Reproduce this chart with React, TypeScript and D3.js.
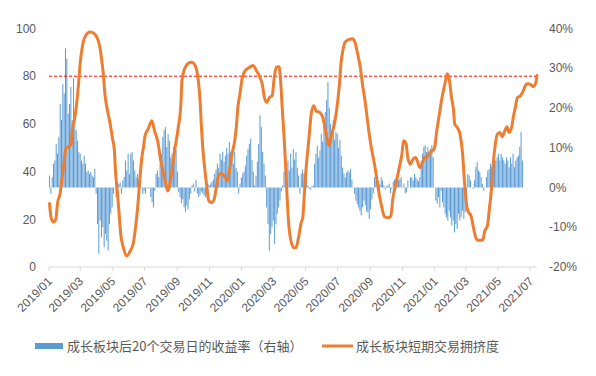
import React from 'react';
import * as d3 from 'd3';

const W = 596;
const H = 376;

const xTickLabels = [
  '2019/01', '2019/03', '2019/05', '2019/07', '2019/09', '2019/11',
  '2020/01', '2020/03', '2020/05', '2020/07', '2020/09', '2020/11',
  '2021/01', '2021/03', '2021/05', '2021/07',
];
const leftTicks = [0, 20, 40, 60, 80, 100];
const rightTicks = [-20, -10, 0, 10, 20, 30, 40];
const crowdingThreshold = 80;

const seriesBarName = '成长板块后20个交易日的收益率（右轴）';
const seriesLineName = '成长板块短期交易拥挤度';

// crowding line (left axis)
const lineDates = [
  '2019-01-02','2019-01-05','2019-01-09','2019-01-14','2019-01-17','2019-01-22','2019-01-26','2019-01-30',
  '2019-02-02','2019-02-07','2019-02-12','2019-02-14','2019-02-19','2019-02-23','2019-02-26','2019-03-01',
  '2019-03-05','2019-03-10','2019-03-20','2019-03-28','2019-04-03','2019-04-08','2019-04-11','2019-04-14',
  '2019-04-17','2019-04-22','2019-04-27','2019-05-01','2019-05-05','2019-05-07','2019-05-11','2019-05-14',
  '2019-05-17','2019-05-22','2019-05-28','2019-06-04','2019-06-10','2019-06-14','2019-06-18','2019-06-22',
  '2019-06-26','2019-06-29','2019-07-02','2019-07-08','2019-07-15','2019-07-20','2019-07-26','2019-08-01',
  '2019-08-08','2019-08-14','2019-08-21','2019-08-27','2019-09-03','2019-09-08','2019-09-10','2019-09-15',
  '2019-09-22','2019-09-28','2019-10-05','2019-10-11','2019-10-14','2019-10-17','2019-10-20','2019-10-23',
  '2019-10-27','2019-10-31','2019-11-05','2019-11-10','2019-11-14','2019-11-19','2019-11-24','2019-11-29',
  '2019-12-05','2019-12-10','2019-12-14','2019-12-19','2019-12-22','2019-12-25','2019-12-29','2020-01-02',
  '2020-01-08','2020-01-17','2020-01-23','2020-01-29','2020-02-05','2020-02-09','2020-02-14','2020-02-18',
  '2020-02-23','2020-02-28','2020-03-03','2020-03-07','2020-03-12','2020-03-15','2020-03-18','2020-03-22',
  '2020-03-25','2020-03-28','2020-03-31','2020-04-03','2020-04-09','2020-04-13','2020-04-18','2020-04-23',
  '2020-04-26','2020-04-29','2020-05-02','2020-05-06','2020-05-09','2020-05-12','2020-05-17','2020-05-21',
  '2020-05-28','2020-06-03','2020-06-07','2020-06-12','2020-06-15','2020-06-20','2020-06-25','2020-06-29',
  '2020-07-04','2020-07-08','2020-07-11','2020-07-15','2020-07-21','2020-07-30','2020-08-03','2020-08-08',
  '2020-08-13','2020-08-18','2020-08-22','2020-08-26','2020-08-30','2020-09-04','2020-09-09','2020-09-14',
  '2020-09-18','2020-09-23','2020-09-28','2020-10-05','2020-10-10','2020-10-14','2020-10-18','2020-10-22',
  '2020-10-26','2020-10-31','2020-11-03','2020-11-08','2020-11-11','2020-11-16','2020-11-21','2020-11-26',
  '2020-11-29','2020-12-04','2020-12-09','2020-12-13','2020-12-18','2020-12-23','2020-12-28','2021-01-01',
  '2021-01-05','2021-01-08','2021-01-11','2021-01-15','2021-01-19','2021-01-23','2021-01-25','2021-01-29',
  '2021-02-02','2021-02-06','2021-02-08','2021-02-13','2021-02-18','2021-02-23','2021-02-26','2021-03-01',
  '2021-03-05','2021-03-11','2021-03-15','2021-03-19','2021-03-24','2021-04-02','2021-04-06','2021-04-11',
  '2021-04-15','2021-04-19','2021-04-22','2021-04-26','2021-04-30','2021-05-05','2021-05-09','2021-05-14',
  '2021-05-18','2021-05-22','2021-05-27','2021-05-30','2021-06-03','2021-06-07','2021-06-13','2021-06-18',
  '2021-06-22','2021-06-26','2021-07-02','2021-07-07','2021-07-12','2021-07-14',
];
const lineValues = [
  26.6, 20.7, 18.9, 20, 26.5, 30.7, 37.5, 44.5,
  49.6, 50.4, 51.3, 57, 62.7, 69.7, 76.8, 85.2,
  92.1, 96.4, 98.5, 97.8, 95.7, 91.5, 86.5, 81,
  72.5, 65.5, 60, 54.3, 48.7, 40.3, 30.5, 22.1,
  13.7, 8.1, 4.6, 6.7, 10.2, 16.5, 24.9, 36.1,
  45.9, 50.1, 55, 57.9, 61.3, 57.1, 52.9, 44.5,
  37.5, 31.9, 38.9, 48.7, 58.5, 68.4, 78.2, 83.1,
  85.4, 85.8, 84.5, 78.2, 71.1, 58.5, 48.7, 41.7,
  34, 27.7, 27, 28.4, 33.3, 38.9, 39.2, 38.2,
  36.1, 41.7, 47.4, 52.9, 58.5, 66.9, 72.6, 78.9,
  82.4, 83.8, 84.5, 82.4, 79.5, 76.8, 70.5, 69,
  71.1, 71.8, 79.5, 83.8, 84, 78.2, 66.9, 52.9,
  40.3, 26.3, 16.5, 11.6, 8.1, 8.1, 12.3, 18.6,
  20.7, 30.5, 40.3, 50.1, 57.1, 64.1, 67.6, 65.5,
  64.8, 62.7, 58.5, 52.9, 50.8, 55.7, 60, 65.5,
  75.3, 86.5, 90.8, 94.2, 95.2, 95.7, 94.2, 89.4,
  83.8, 75.3, 69.7, 62.7, 55.7, 48.7, 43.1, 36.1,
  30.5, 24.9, 21, 20.7, 21.4, 29.1, 33.3, 37.5,
  41.7, 47.4, 52.9, 51.5, 45.9, 43.1, 45.2, 45.9,
  44.5, 41.7, 43.8, 45.9, 45.9, 48, 48.7, 50.1,
  57.1, 61.3, 65.5, 71.1, 75.3, 79.5, 81, 78.2,
  71.1, 65.5, 60, 58.5, 55.7, 47.4, 37.5, 29.1,
  23.5, 21.4, 17.2, 13, 11.2, 11.2, 15.1, 17.2,
  24.9, 33.3, 43.1, 51.5, 55.7, 56.4, 54.6, 57.1,
  58.8, 56.4, 58.5, 62.7, 66.9, 71.1, 71.8, 73.9,
  76.1, 76.8, 76.5, 75.6, 77.4, 80.3,
];

// forward 20-day return, % (right axis), one bar every ~2.5 calendar days
const barStartDate = '2019-01-02';
const barStepDays = 2.525;
const barReturns2019a = [
  3, -1.6, 2.6, 6, 6.8, 11, 8.5, 12.7, 21, 17,
  26, 23.6, 35, 32.4, 18.6, 21, 25.3, 17, 27.4, 17,
  14.4, 11.8, 8.9, 8.5, 6.8, 6, 8, 6, 3.9, 4.3,
  3.4, 3.9, 3, 2.6, 4.7, -1.6, -9.2, -16.7, -8.3, -12.5,
  -10, -15, -11.7, -13.4, -15.9, -9.2, -6.6, -5, -1.6, 0,
  -2.4, -1.2, 0.9, 1.3, -1.6, 1.8, 2.6, 6.8, 4.3, 8.5,
  3.4, 8.5, 8.9, 6.8, 4.3, 2.6, 3.4, 1.8, 2.6, 0,
  -1.6, -0.8, -1.6, 0, -0.3, 0.1, -2.4, -3.7, -5, -0.8,
  3.4, 4.3, 2.6, 6, 8.5, 12.7, 14.4, 15.2, 10.2, 13.5,
  11.8, 7.6, 8.5, 10.2,
];
const barReturns2019b = [
  8.5, 9.5, 4, -1.2, -2.5, -4, -3, -5, -6.2, -4.5,
  -5.5, -3, -1.5, 0.5, 1, -1, 1.9, -1.5, -2.4, -1.8,
  -1, -1.5, -2, -2.5, -1, 0.8, 0.5, 1, 1.5, 2,
  3.5, 4.5, 6, 5, 8.5, 7, 9, 6.5, 8, 10,
  8.5, 11.4, 9, 7, 6, 9, 5, 4, -1.5, 1,
  2.5, 3.5, 4, 5.5, 8, 9.7, 11, 12.3, 7, 4,
  0.5, 3, 6.5, 11, 18.2, 15.2, 9, 6, 3, -5,
  -9.2, -15.9, -11.7, -10, -8.3, -14.2, -9.2, -6.6, -5, -3.3,
  -1, 0.5, 4, 8, 6, 6.8, 4.3, 8.5, 5, 9.7,
  7, 9,
];
const barReturns2020 = [
  5, 3, -1.5, 3.5, 4.5, 3.5, 4, 2, 0.5, -0.3,
  -0.5, 0.3, 0.5, 6, 8.5, 10.5, 7.5, 9.3, 13.5, 11.5,
  16, 19, 22, 26.5, 20, 16, 14.4, 17, 12, 14,
  13.5, 10, 12, 8, 5, 3.5, 2.5, 3.8, 4.3, 3.8,
  4.7, 2, 0, -1.6, -3.3, -4.2, -5, -6, -7, -5,
  -3.3, -4.5, -6, -6.3, -7.9, -5.5, -3, -1.5, 2.6, 1.8,
  0.5, 1.5, 0.8, 2.6, 1.8, 0.5, -0.5, 0.3, 0.5, 1,
  -1.5, -0.4, 1.5, 2, 0.1, 2.6, 1.8, 2.2, 2.6, 0,
  1, -1.5, -1.2, 1.8, 0, 2.6, 2.5, 1.8, 3.4, 2.5,
  2, 1.5,
];
const barReturns2021 = [
  2.6, 6.8, 8.5, 10.2, 10.6, 8.9, 10.2, 7.6, 9.7, 10.6,
  7.6, 0, -3.3, -4.1, -2.4, -5, -0.8, -3.7, -5, -6.6,
  -7.5, -8.3, -5.8, -7.5, -9.6, -8.3, -11.3, -9.2, -10.4, -6.6,
  -8.3, -7.5, -5.8, -7.9, -6.2, -3.3, 3.4, 3, 1.8, 0,
  -0.3, 1.8, 5.1, 6.4, 4.3, 3.9, 2.6, 0.9, -0.8, 0,
  2.6, 4.3, 4.7, 6, 5.1, 6.4, 6.8, 6.8, 7.6, 8.5,
  6.8, 8.5, 7.6, 6.8, 6, 7.6, 6.8, 5.1, 7.6, 6,
  8.5, 5.1, 6.8, 7.6, 8, 10.2, 14, 6.8,
];

const BLUE = '#5B9BD5';
const ORANGE = '#ED7D31';
const TEXT = '#595959';
const AXIS = '#D9D9D9';

export default function App() {
  const parse = d3.timeParse('%Y-%m-%d');
  const parseTick = d3.timeParse('%Y/%m');

  const x = d3
    .scaleTime()
    .domain([new Date(2019, 0, 1), new Date(2021, 6, 14)])
    .range([49, 537]);
  const yLeft = d3.scaleLinear().domain([0, 100]).range([267, 28.5]);
  const yRight = d3.scaleLinear().domain([-20, 40]).range([267, 28.5]);

  const barValues = [...barReturns2019a, ...barReturns2019b, ...barReturns2020, ...barReturns2021];
  const start = parse(barStartDate) as Date;
  const bars = barValues.map((v, i) => ({
    date: d3.timeHour.offset(start, Math.round(i * barStepDays * 24)),
    v,
  }));

  const linePts = lineDates.map((d, i) => ({ date: parse(d) as Date, v: lineValues[i] }));
  const lineGen = d3
    .line<{ date: Date; v: number }>()
    .x((d) => x(d.date))
    .y((d) => yLeft(d.v))
    .curve(d3.curveMonotoneX);

  const [x0, x1] = x.range();
  const axisY = yLeft(0);
  const zeroY = yRight(0);
  const numFont = "'Liberation Sans', Arial, sans-serif";
  const cjkFont = "'Noto Sans CJK SC', 'Noto Sans', sans-serif";

  return (
    <svg
      width={W}
      height={H}
      viewBox={`0 0 ${W} ${H}`}
      style={{ position: 'absolute', left: 0, top: 0, background: '#fff' }}
    >
      <rect x={0} y={0} width={W} height={H} fill="#fff" />

      {/* bars */}
      <g fill={BLUE}>
        {bars.map((b, i) => {
          const yv = yRight(b.v);
          return (
            <rect
              key={i}
              x={x(b.date) - 0.5}
              y={Math.min(yv, zeroY)}
              width={1}
              height={Math.max(0.3, Math.abs(yv - zeroY))}
            />
          );
        })}
      </g>

      {/* x axis */}
      <line x1={x0} x2={x1} y1={axisY} y2={axisY} stroke={AXIS} strokeWidth={1} />
      {xTickLabels.map((t) => {
        const tx = x(parseTick(t) as Date);
        return (
          <g key={t}>
            <line x1={tx} x2={tx} y1={axisY} y2={axisY + 4} stroke={AXIS} strokeWidth={1} />
            <text
              transform={`translate(${tx + 1},${axisY + 12}) rotate(-45)`}
              textAnchor="end"
              dy="0.35em"
              fontSize={12}
              fontFamily={numFont}
              fill={TEXT}
            >
              {t}
            </text>
          </g>
        );
      })}

      {/* threshold */}
      <line
        x1={x0}
        x2={x1}
        y1={yLeft(crowdingThreshold)}
        y2={yLeft(crowdingThreshold)}
        stroke="#FF0000"
        strokeWidth={1}
        strokeDasharray="3,2"
      />

      {/* line */}
      <path
        d={lineGen(linePts) || ''}
        fill="none"
        stroke={ORANGE}
        strokeWidth={3}
        strokeLinejoin="round"
        strokeLinecap="round"
      />

      {/* left axis labels */}
      {leftTicks.map((t) => (
        <text
          key={t}
          x={36}
          y={yLeft(t)}
          dy="0.35em"
          textAnchor="end"
          fontSize={12}
          fontFamily={numFont}
          fill={TEXT}
        >
          {t}
        </text>
      ))}

      {/* right axis labels */}
      {rightTicks.map((t) => (
        <text
          key={t}
          x={549}
          y={yRight(t)}
          dy="0.35em"
          textAnchor="start"
          fontSize={12}
          fontFamily={numFont}
          fill={TEXT}
        >
          {`${t}%`}
        </text>
      ))}

      {/* legend */}
      <rect x={35} y={343} width={28} height={6} fill={BLUE} />
      <text x={67} y={346} dy="0.35em" fontSize={13} fontFamily={cjkFont} fill={TEXT}>
        {seriesBarName}
      </text>
      <line x1={322} x2={353} y1={346} y2={346} stroke={ORANGE} strokeWidth={3} />
      <text x={356} y={346} dy="0.35em" fontSize={13} fontFamily={cjkFont} fill={TEXT}>
        {seriesLineName}
      </text>
    </svg>
  );
}
